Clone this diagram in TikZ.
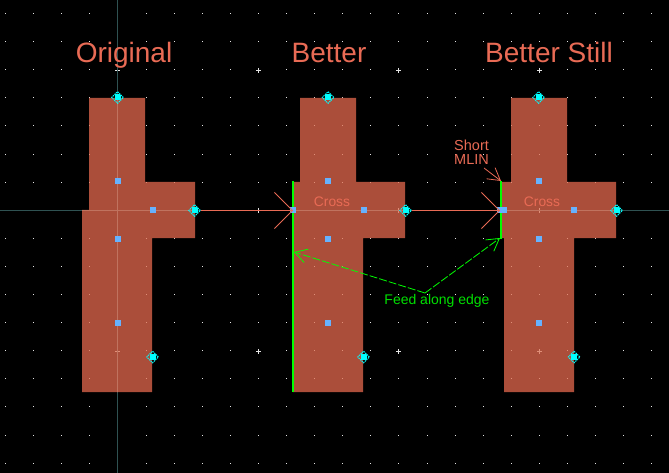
\documentclass[tikz,border=0pt]{standalone}
\usepackage{fontspec}
\setmainfont{Liberation Sans}
\usetikzlibrary{arrows.meta,shapes.geometric}
\definecolor{metal}{HTML}{AB4E3A}
\definecolor{salmon}{HTML}{E96B55}
\definecolor{peach}{HTML}{E08F78}
\definecolor{axisdim}{HTML}{2F5252}
\definecolor{axisover}{HTML}{C0735F}
\definecolor{pinblue}{HTML}{66B2FF}
\definecolor{portcyan}{HTML}{00FFFF}
\definecolor{feedgreen}{HTML}{00FF00}
\definecolor{labelgreen}{HTML}{00E000}
\tikzset{
	pin/.style={fill=pinblue,inner sep=0pt,minimum size=6pt},
	port/.style={diamond,draw=portcyan,line width=1pt,dash pattern=on 1.4pt off .8pt,inner sep=0pt,minimum size=12pt,
		path picture={\fill[portcyan] ([shift={(-3pt,-3pt)}]path picture bounding box.center) rectangle ++(6pt,6pt);}},
	title/.style={text=salmon,font=\fontsize{28}{32}\selectfont,inner sep=0pt,anchor=base},
	note/.style={text=salmon,font=\fontsize{13.8}{14}\selectfont,inner sep=0pt},
	feedarrow/.style={feedgreen,line width=0.8pt,dash pattern=on 8pt off 2pt},
	redarrow/.style={salmon,line width=0.8pt},
	bigtip/.style={-{Straight Barb[length=18pt,width=36pt,line width=0.8pt]}},
	smalltip/.style={-{Straight Barb[length=12pt,width=14pt,line width=0.8pt]}}
}
\newcommand{\origpath}{(89,98) -- (145,98) -- (145,182) -- (195,182) -- (195,238) -- (152,238) -- (152,392) -- (82,392) -- (82,210) -- (89,210) -- cycle}
\newcommand{\betterpath}{(300,98) -- (356,98) -- (356,182) -- (405,182) -- (405,238) -- (363,238) -- (363,392) -- (293,392) -- (293,182) -- (300,182) -- cycle}
\newcommand{\stillpath}{(511,98) -- (567,98) -- (567,182) -- (616,182) -- (616,238) -- (574,238) -- (574,392) -- (504,392) -- (504,238) -- (501,238) -- (501,182) -- (511,182) -- cycle}
% grid dots and the small crosses, in one colour
\newcommand{\gridmarks}[1]{%
	\foreach \i in {0,...,23}
		\foreach \j in {0,...,16}
			\fill[#1] ({round(5+28.1*\i)},{round(13+28.1*\j)}) rectangle ++(1,1);
	\foreach \i in {117,258,398,539}
		\foreach \j in {70,210,351}
			\draw[#1,line width=1pt] (\i-2,\j+.5) -- (\i+3,\j+.5) (\i+.5,\j-2) -- (\i+.5,\j+3);
}
\begin{document}
\begin{tikzpicture}[x=1pt,y=-1pt]
	\useasboundingbox (0,0) rectangle (669,473);
	\fill[black] (0,0) rectangle (669,473);
	\gridmarks{white!90!black}
	\draw[axisdim,line width=1pt] (0,210.5) -- (669,210.5);
	\draw[axisdim,line width=1pt] (117.5,0) -- (117.5,473);

	% the three layouts
	\fill[metal] \origpath;
	\fill[metal] \betterpath;
	\fill[metal] \stillpath;
	\begin{scope}
		\clip \origpath \betterpath \stillpath;
		\gridmarks{peach}
		\draw[axisover,line width=1pt] (0,210.5) -- (669,210.5);
		\draw[axisover,line width=1pt] (117.5,0) -- (117.5,473);
	\end{scope}

	% edges that carry the feed
	\fill[feedgreen] (291.5,181) rectangle (294,392);
	\fill[feedgreen] (499.5,181) rectangle (502,239);

	% pins
	\foreach \x/\y/\nm in {117.5/181.5/oa,152.5/210.5/ob,117.5/238.5/oc,117.5/322.5/od,
		293/210.5/ba,328/181.5/bb,363.5/210.5/bc,328/238.5/bd,328/322.5/be,
		500/210.5/sa,504/210.5/sf,538.5/181.5/sb,573.5/210.5/sc,538.5/238.5/sd,538.5/322.5/se}
		\node[pin] (\nm) at (\x,\y) {};

	% ports
	\node[port] (otop) at (117.5,97.5) {};
	\node[port] (oright) at (194.5,210.5) {};
	\node[port] (obot) at (152.5,357) {};
	\node[port] (btop) at (328,97.5) {};
	\node[port] (bright) at (405.5,210.5) {};
	\node[port] (bbot) at (363.5,357) {};
	\node[port] (stop) at (538.5,97.5) {};
	\node[port] (sright) at (616.5,210.5) {};
	\node[port] (sbot) at (574,357) {};

	% text
	\node[title] (orig) at (124,63) {Original};
	\node[title] (better) at (329,63) {Better};
	\node[title] (still) at (549,63) {Better Still};
	\node[note] (crossb) at (332,202) {Cross};
	\node[note] (crosss) at (542,202) {Cross};
	\node[note,align=left,anchor=north west,font=\fontsize{14.5}{14}\selectfont] (mlin) at (454,139.5) {Short\\MLIN};
	\node[text=labelgreen,font=\fontsize{14}{15}\selectfont,inner sep=0pt] (feedlabel) at (437,301) {Feed along edge};

	% connectors
	\draw[redarrow,bigtip] (oright.east) -- (ba.center);
	\draw[redarrow,bigtip] (bright.east) -- (sa.center);
	\coordinate (mlinfoot) at (484,168);
	\coordinate (mlintip) at (501,181);
	\draw[redarrow,smalltip] (mlinfoot) -- (mlintip);
	\coordinate (feedapex) at (425,293);
	\coordinate (leftedge) at (294,252);
	\coordinate (rightedge) at (500,238);
	\draw[feedarrow,smalltip] (feedapex) -- (leftedge);
	\draw[feedarrow,smalltip] (feedapex) -- (rightedge);
\end{tikzpicture}
\end{document}
